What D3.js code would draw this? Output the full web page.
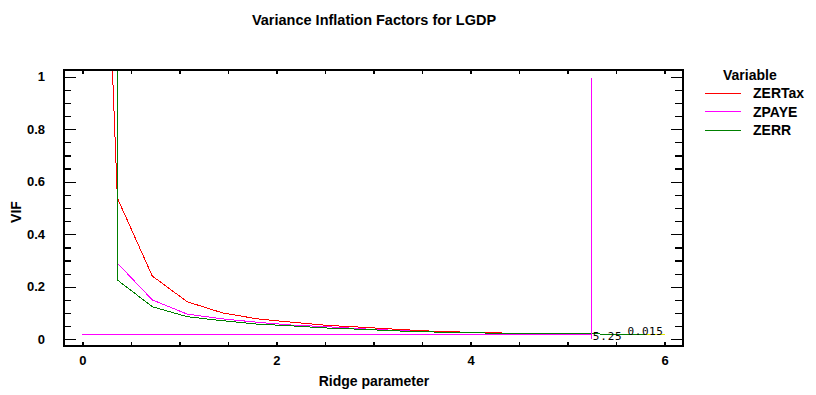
<!DOCTYPE html>
<html><head><meta charset="utf-8">
<script src="https://cdn.jsdelivr.net/npm/d3@7"></script>
<style>
body{margin:0;background:#fff;}
text{font-family:"Liberation Sans",Arial,sans-serif;font-weight:bold;fill:#000;}
path,line,rect{shape-rendering:crispEdges;}
</style></head>
<body><svg id="c" width="816" height="395"></svg>
<script>
const ridge  = [0, 0.36, 0.72, 1.08, 1.44, 1.8, 2.16, 2.52, 2.88, 3.24, 3.6, 3.96, 4.32, 4.68, 5.04, 5.4, 5.76, 6.0];
const zertax = [4.0, 0.538, 0.241, 0.143, 0.101, 0.078, 0.065, 0.053, 0.046, 0.038, 0.031, 0.027, 0.024, 0.022, 0.021, 0.020, 0.019, 0.018];
const zpaye  = [200, 0.29, 0.15, 0.096, 0.078, 0.065, 0.054, 0.048, 0.040, 0.034, 0.029, 0.026, 0.024, 0.022, 0.021, 0.020, 0.019, 0.018];
const zerr   = [200, 0.226, 0.124, 0.086, 0.071, 0.058, 0.051, 0.043, 0.038, 0.032, 0.028, 0.025, 0.023, 0.022, 0.021, 0.020, 0.019, 0.018];
const seriesNames = ["ZERTax", "ZPAYE", "ZERR"];
const seriesColors = ["#ff0000", "#ff00ff", "#008000"];
const xTicks = [0, 2, 4, 6];
const yTicks = [0, 0.2, 0.4, 0.6, 0.8, 1];
const markerX = 5.25, markerY = 0.02, markerTop = 0.995;
const markerXLabel = "5.25", markerYLabel = "0.015";
const yellowSeg = [5.8, 6.0], yellowY = 0.019;

const svg = d3.select("#c");
const L = 64, R = 683, T = 70, B = 346;
const x = d3.scaleLinear().domain([-0.19, 6.19]).range([L, R]);
const y = d3.scaleLinear().domain([-0.0255, 1.0255]).range([B, T]);

svg.append("text").attr("x", 374).attr("y", 25).attr("text-anchor", "middle")
  .style("font-size", "14.5px").text("Variance Inflation Factors for LGDP");

svg.append("defs").append("clipPath").attr("id", "clip")
  .append("rect").attr("x", L).attr("y", T).attr("width", R - L).attr("height", B - T);

const g = svg.append("g").attr("clip-path", "url(#clip)");
const line = d3.line().x(d => x(d[0])).y(d => y(d[1]));

g.append("path").attr("d", line([[0, markerY], [markerX, markerY]]))
  .attr("stroke", "#ff00ff").attr("fill", "none").attr("stroke-width", 1);

const data = [zertax, zpaye, zerr];
const order = [1, 0, 2];
order.forEach(i => {
  g.append("path").attr("d", line(ridge.map((r, j) => [r, data[i][j]])))
    .attr("stroke", seriesColors[i]).attr("fill", "none").attr("stroke-width", 1);
});

g.append("path").attr("d", line([[markerX, 0], [markerX, markerTop]]))
  .attr("stroke", "#ff00ff").attr("fill", "none").attr("stroke-width", 1);
g.append("path").attr("d", line([[yellowSeg[0], yellowY], [yellowSeg[1], yellowY]]))
  .attr("stroke", "#e8e800").attr("fill", "none").attr("stroke-width", 1.5);

svg.append("text").attr("x", x(markerX) + 1).attr("y", y(0) + 1)
  .style("font-family", "'DejaVu Sans Mono',monospace").style("font-weight", "normal")
  .style("font-size", "11px").style("letter-spacing", "0.8px").text(markerXLabel);
svg.append("text").attr("x", x(6) - 1).attr("y", y(markerY) + 0.5).attr("text-anchor", "end")
  .style("font-family", "'DejaVu Sans Mono',monospace").style("font-weight", "normal")
  .style("font-size", "11px").style("letter-spacing", "0.6px").text(markerYLabel);

svg.append("rect").attr("x", L).attr("y", T).attr("width", R - L).attr("height", B - T)
  .attr("fill", "none").attr("stroke", "#000").attr("stroke-width", 1.5);

const xMinor = d3.range(0, 6.01, 0.5);
svg.append("g").attr("transform", `translate(0,${B})`)
  .call(d3.axisBottom(x).tickValues(xMinor).tickSize(-4).tickFormat(""))
  .call(a => a.select(".domain").remove());
svg.append("g").attr("transform", `translate(0,${T})`)
  .call(d3.axisTop(x).tickValues(xMinor).tickSize(-4).tickFormat(""))
  .call(a => a.select(".domain").remove());
svg.append("g").attr("transform", `translate(0,${B})`)
  .call(d3.axisBottom(x).tickValues(xTicks).tickSize(0).tickPadding(10).tickFormat(d3.format("d")))
  .call(a => { a.select(".domain").remove(); a.selectAll("text").style("font-size", "13px").style("font-family", "'Liberation Sans',Arial,sans-serif").style("font-weight", "bold"); });

const yMinor = d3.range(0, 1.001, 0.05).filter(v => Math.abs(v * 5 - Math.round(v * 5)) > 1e-6);
svg.append("g").attr("transform", `translate(${L},0)`)
  .call(d3.axisLeft(y).tickValues(yMinor).tickSize(-7).tickFormat("")).call(a => a.select(".domain").remove());
svg.append("g").attr("transform", `translate(${L},0)`)
  .call(d3.axisLeft(y).tickValues(yTicks).tickSize(-12).tickPadding(19).tickFormat(d => d3.format("")(+d.toFixed(1))))
  .call(a => { a.select(".domain").remove(); a.selectAll("text").style("font-size", "13px").style("font-family", "'Liberation Sans',Arial,sans-serif").style("font-weight", "bold"); });
svg.append("g").attr("transform", `translate(${R},0)`)
  .call(d3.axisRight(y).tickValues(yMinor).tickSize(-8).tickFormat("")).call(a => a.select(".domain").remove());
svg.append("g").attr("transform", `translate(${R},0)`)
  .call(d3.axisRight(y).tickValues(yTicks).tickSize(-12).tickFormat("")).call(a => a.select(".domain").remove());
svg.selectAll(".tick line").attr("stroke", "#000").attr("stroke-width", 1.3);

svg.append("text").attr("x", 374).attr("y", 386).attr("text-anchor", "middle")
  .style("font-size", "14px").text("Ridge parameter");
svg.append("text").attr("transform", "translate(21,212) rotate(-90)").attr("text-anchor", "middle")
  .style("font-size", "14px").text("VIF");

svg.append("text").attr("x", 723).attr("y", 80).style("font-size", "14px").text("Variable");
seriesNames.forEach((n, i) => {
  const yy = 93 + i * 18.5;
  svg.append("line").attr("x1", 705).attr("x2", 741).attr("y1", yy).attr("y2", yy)
    .attr("stroke", seriesColors[i]).attr("stroke-width", 1);
  svg.append("text").attr("x", 753).attr("y", yy + 5).style("font-size", "14px").text(n);
});
</script></body></html>
